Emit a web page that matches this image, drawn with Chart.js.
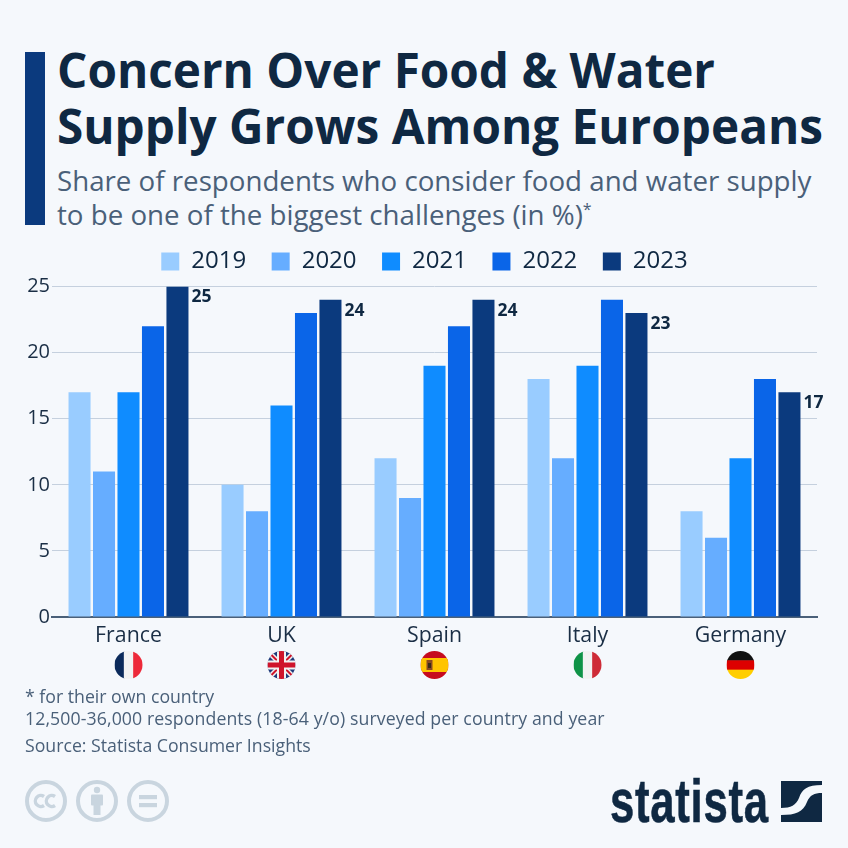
<!DOCTYPE html>
<html><head><meta charset="utf-8">
<script src="https://cdn.jsdelivr.net/npm/chart.js@4"></script>
<style>
html,body{margin:0;padding:0;background:#f5f8fc;width:848px;height:848px;overflow:hidden;font-family:"Open Sans",sans-serif}
.a{position:absolute;white-space:nowrap}
canvas{position:absolute;left:0;top:0}
</style></head><body>
<div class="a" style="left:25px;top:52px;width:20px;height:173px;background:#0b3a7e"></div>
<div class="a" style="left:57px;top:37px;font-size:47.7px;font-weight:700;color:#0f2842;line-height:66px">Concern Over Food &amp; Water</div>
<div class="a" style="left:57px;top:93px;font-size:47.7px;font-weight:700;color:#0f2842;line-height:66px">Supply Grows Among Europeans</div>
<div class="a" style="left:57px;top:162px;font-size:27.7px;color:#4a6079;line-height:36px">Share of respondents who consider food and water supply</div>
<div class="a" style="left:57px;top:196px;font-size:27.7px;color:#4a6079;line-height:36px">to be one of the biggest challenges (in %)<sup style="font-size:16px;line-height:0">*</sup></div>
<canvas id="c" width="848" height="848" style="width:848px;height:848px"></canvas>
<div class="a" style="left:25px;top:685px;font-size:17.7px;color:#4a6079;line-height:22px">* for their own country</div>
<div class="a" style="left:25px;top:707px;font-size:17.7px;color:#4a6079;line-height:22px;letter-spacing:.1px">12,500-36,000 respondents (18-64 y/o) surveyed per country and year</div>
<div class="a" style="left:25px;top:734px;font-size:17.7px;color:#4a6079;line-height:22px">Source: Statista Consumer Insights</div>
<svg class="a" style="left:25px;top:780px" width="146" height="44" viewBox="0 0 146 44">
<g fill="none" stroke="#c9d5df" stroke-width="4">
<circle cx="21" cy="21" r="19"/><circle cx="72" cy="21" r="19"/><circle cx="123" cy="21" r="19"/></g>
<g fill="none" stroke="#c9d5df" stroke-width="3.4">
<path d="M19 16.5a5.5 5.5 0 1 0 0 9"/><path d="M30 16.5a5.5 5.5 0 1 0 0 9"/></g>
<g fill="#c9d5df"><circle cx="72" cy="10" r="3.2"/><rect x="66" y="14.5" width="12" height="11" rx="1"/><rect x="68.5" y="24" width="7" height="11"/>
<rect x="114" y="15" width="18" height="4.2"/><rect x="114" y="23" width="18" height="4.2"/></g>
</svg>
<div class="a" style="left:610px;top:766px;font-family:'Liberation Sans';font-weight:700;font-size:62px;line-height:70px;color:#0f2842;letter-spacing:1px;transform:scaleX(.705);transform-origin:0 0;-webkit-text-stroke:.6px #0f2842">statista</div>
<svg class="a" style="left:781px;top:781px" width="41" height="41" viewBox="0 0 41 41">
<rect width="41" height="41" fill="#0f2842"/>
<path d="M0 27C10 27 15 24 18 17C21 8 26 4 41 4L41 12C33 12 29 14 26 21C22 31 15 34 0 34Z" fill="#f5f8fc"/>
</svg>
<script>
const categories = ["France","UK","Spain","Italy","Germany"];
const y2019 = [17,10,12,18,8];
const y2020 = [11,8,9,12,6];
const y2021 = [17,16,19,19,12];
const y2022 = [22,23,22,24,18];
const y2023 = [25,24,24,23,17];
const yearLabels = ["2019","2020","2021","2022","2023"];
const yearColors = ["#99ccff","#66adff","#0f8cff","#0a65e8","#0b3a7e"];
const series = [y2019,y2020,y2021,y2022,y2023];

function flag(ctx,name,cx,cy,r){
  ctx.save();ctx.beginPath();ctx.arc(cx,cy,r,0,Math.PI*2);ctx.clip();
  const x=cx-r,y=cy-r,d=2*r;
  const v=(a)=>a.forEach((c,i)=>{ctx.fillStyle=c;ctx.fillRect(x+i*d/3,y,d/3+.5,d)});
  const h=(a)=>a.forEach((c,i)=>{ctx.fillStyle=c;ctx.fillRect(x,y+i*d/3,d,d/3+.5)});
  if(name==="France")v(["#0b2a5b","#f2f2f2","#ed2939"]);
  if(name==="Italy")v(["#0f9347","#f2f2f2","#ce2b37"]);
  if(name==="Germany")h(["#111111","#dd0000","#ffce00"]);
  if(name==="Spain"){ctx.fillStyle="#c60b1e";ctx.fillRect(x,y,d,d);ctx.fillStyle="#ffc400";ctx.fillRect(x,y+d/4,d,d/2);
    ctx.fillStyle="#8a4a22";ctx.fillRect(cx-8,cy-5,6,10);ctx.fillStyle="#3a2a1a";ctx.fillRect(cx-6.5,cy-2,3,5);}
  if(name==="UK"){ctx.fillStyle="#1f3a7a";ctx.fillRect(x,y,d,d);
    ctx.lineWidth=5;ctx.strokeStyle="#f2f2f2";ctx.beginPath();ctx.moveTo(x,y);ctx.lineTo(x+d,y+d);ctx.moveTo(x+d,y);ctx.lineTo(x,y+d);ctx.stroke();
    ctx.lineWidth=2;ctx.strokeStyle="#cf142b";ctx.stroke();
    ctx.fillStyle="#f2f2f2";ctx.fillRect(cx-4.5,y,9,d);ctx.fillRect(x,cy-4.5,d,9);
    ctx.fillStyle="#cf142b";ctx.fillRect(cx-2.5,y,5,d);ctx.fillRect(x,cy-2.5,d,5);}
  ctx.restore();
}
const extras={id:"extras",
 afterLayout(chart){const l=chart.legend;l.left+=16;l.right+=16;l.top-=3;l.bottom-=3;},
 afterDatasetsDraw(chart){
  const ctx=chart.ctx;const last=chart.getDatasetMeta(4);
  ctx.save();ctx.font="700 17.5px 'Open Sans'";ctx.fillStyle="#0f2842";ctx.textAlign="left";ctx.textBaseline="middle";
  last.data.forEach((b,i)=>{ctx.fillText(String(y2023[i]),b.x+b.width/2+3,b.y+11)});
  ctx.restore();
  const xs=chart.scales.x;
  categories.forEach((n,i)=>flag(ctx,n,xs.getPixelForTick(i),665,14));
}};
new Chart(document.getElementById("c"),{
  type:"bar",
  data:{labels:categories,datasets:series.map((d,i)=>({label:yearLabels[i],data:d,backgroundColor:yearColors[i],categoryPercentage:0.8,barPercentage:0.9}))},
  plugins:[extras],
  options:{responsive:false,animation:false,devicePixelRatio:1,
    layout:{padding:{left:0,right:31,top:227,bottom:0}},
    plugins:{tooltip:{enabled:false},
      legend:{position:"top",align:"center",labels:{boxWidth:18,boxHeight:18,padding:25.5,color:"#0f2842",font:{family:"Open Sans",size:24}}}},
    scales:{
      x:{grid:{display:false},border:{color:"#4a6079",width:2},
        ticks:{color:"#1a2e45",font:{family:"Open Sans",size:21.3},padding:-2,maxRotation:0},
        afterFit(s){s.height=231}},
      y:{min:0,max:25,ticks:{stepSize:5,color:"#1a2e45",font:{family:"Open Sans",size:20},padding:2},
        grid:{color:"#c5d0de",lineWidth:1,drawTicks:false},border:{display:false},
        afterFit(s){s.width=52}}
    }}
});
</script>
</body></html>
